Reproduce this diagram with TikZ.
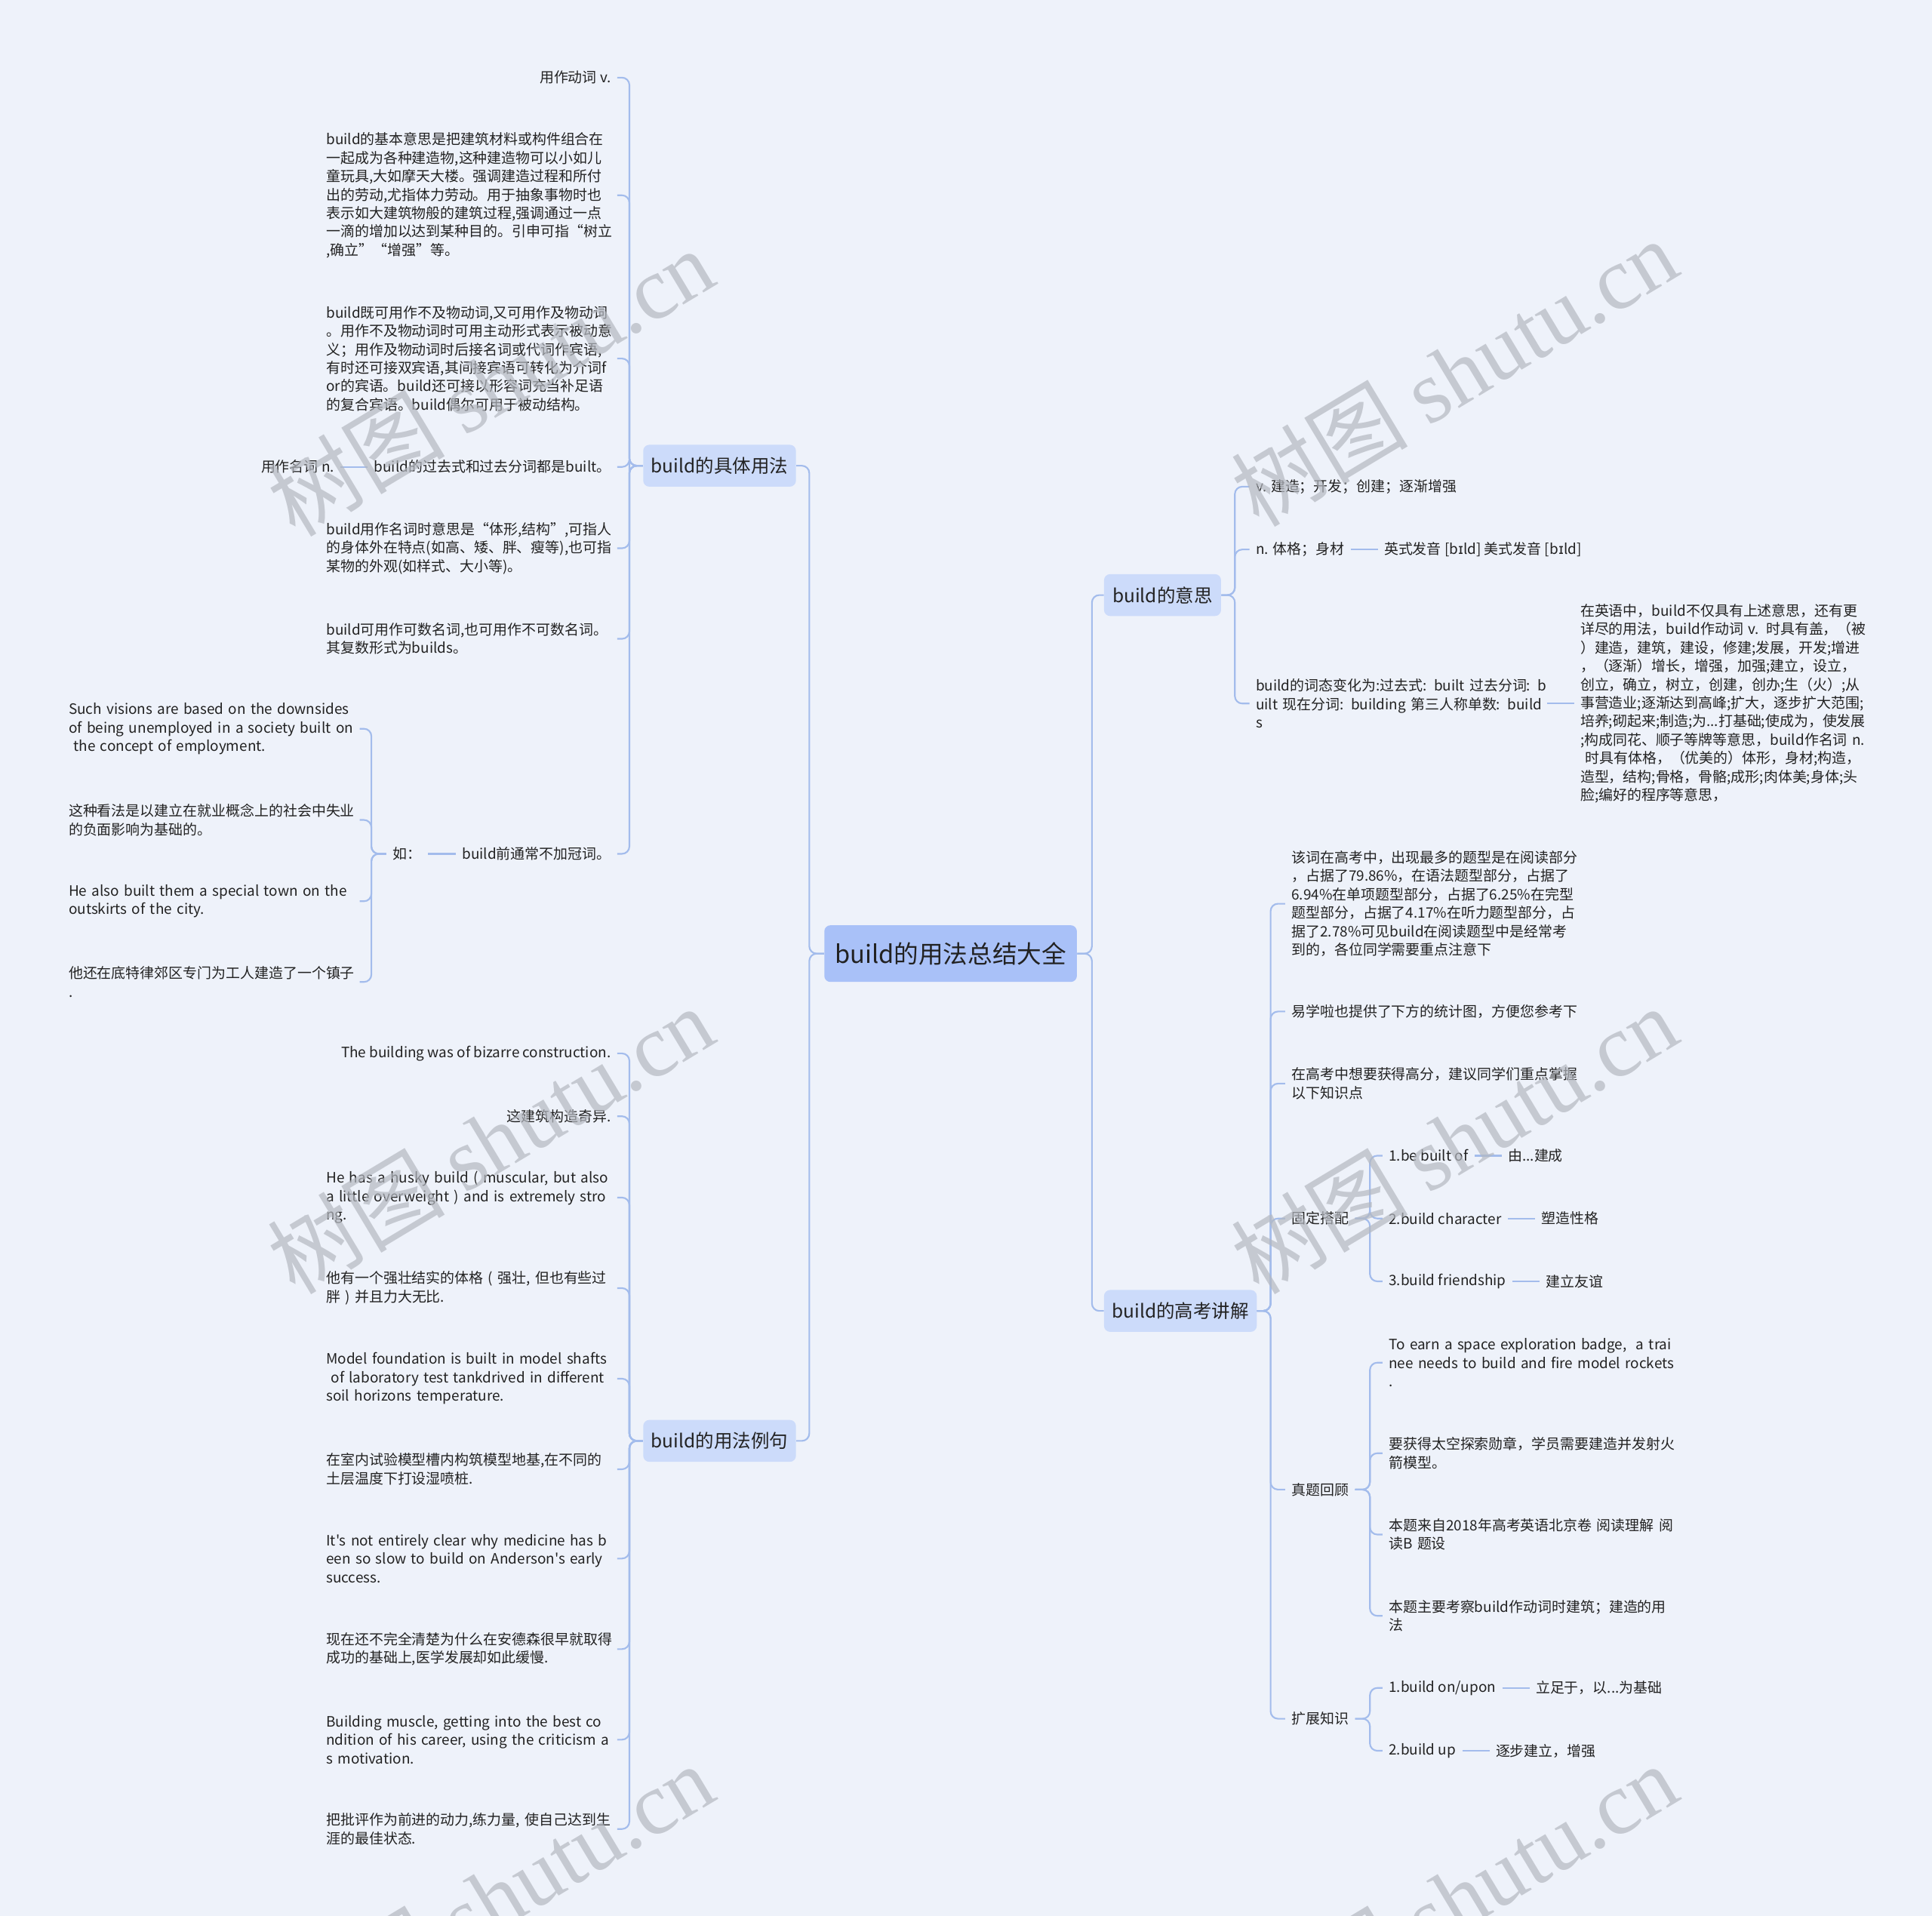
\documentclass[tikz,border=0pt]{standalone}
\usepackage{fontspec}
\setmainfont{Noto Sans CJK SC}[Ligatures=TeXOff]
\newfontfamily\ipafont{DejaVu Sans}
\newfontfamily\wmserif{Liberation Serif}
\usetikzlibrary{positioning}
\setlength{\parindent}{0pt}
\newcommand{\keep}[1]{\mbox{#1}}
\definecolor{bgc}{HTML}{EEF2FA}
\definecolor{lc}{HTML}{A3BCEC}
\definecolor{rootfill}{HTML}{A9C1F8}
\definecolor{lonefill}{HTML}{CCDBFA}
\definecolor{txt}{HTML}{222222}
\definecolor{wmc}{HTML}{B4B8C0}
\tikzset{
  conn/.style={draw=lc, line width=1.3pt, rounded corners=6pt},
  leaf/.style={font=\fontsize{11.6}{15}\selectfont, text=txt, inner xsep=5pt, inner ysep=2pt},
  para/.style={leaf, text width=231pt, align=left},
  rootbox/.style={fill=rootfill, rounded corners=5pt, minimum width=205pt, minimum height=46pt, font=\fontsize{20}{24}\selectfont, text=txt, inner sep=0pt},
  lonebox/.style={fill=lonefill, rounded corners=5pt, minimum height=34pt, font=\fontsize{15}{18}\selectfont, text=txt, inner xsep=0pt},
  wmark/.style={text=wmc, text opacity=0.7, rotate=31, font=\fontsize{72}{80}\selectfont}
}
\begin{document}
\begin{tikzpicture}[x=1pt,y=-1pt]
\fill[bgc] (0,0) rectangle (1568,1555);
\useasboundingbox (0,0) rectangle (1568,1555);

% root and main branches
\node[rootbox] (root) at (771.5,774) {build的用法总结大全};
\node[lonebox, minimum width=124pt] (jt) at (584,378) {build的具体用法};
\node[lonebox, minimum width=124pt] (lj) at (584,1169.5) {build的用法例句};
\node[lonebox, minimum width=95pt] (ys) at (943.5,483) {build的意思};
\node[lonebox, minimum width=124pt] (gk) at (958,1064) {build的高考讲解};

% ---- build的具体用法 ----
\node[leaf, anchor=east] (c1) at (501,63) {用作动词 v.};
\node[para, anchor=east] (c2) at (501,158.5) {\keep{build的基本意思是把建筑材料或构件组合在}\\\keep{一起成为各种建造物,这种建造物可以小如儿}\\\keep{童玩具,大如摩天大楼。强调建造过程和所付}\\\keep{出的劳动,尤指体力劳动。用于抽象事物时也}\\\keep{表示如大建筑物般的建筑过程,强调通过一点}\\\keep{一滴的增加以达到某种目的。引申可指“树立}\\\keep{,确立”“增强”等。}};
\node[para, anchor=east] (c3) at (501,291) {\keep{build既可用作不及物动词,又可用作及物动词}\\\keep{。用作不及物动词时可用主动形式表示被动意}\\\keep{义；用作及物动词时后接名词或代词作宾语,}\\\keep{有时还可接双宾语,其间接宾语可转化为介词f}\\\keep{or的宾语。build还可接以形容词充当补足语}\\\keep{的复合宾语。build偶尔可用于被动结构。}};
\node[leaf, anchor=east] (c4) at (501,379) {build的过去式和过去分词都是built。};
\node[leaf, left=22pt of c4] (c4n) {用作名词 n.};
\node[para, anchor=east] (c5) at (501,445) {\keep{build用作名词时意思是“体形,结构”,可指人}\\\keep{的身体外在特点(如高、矮、胖、瘦等),也可指}\\\keep{某物的外观(如样式、大小等)。}};
\node[para, anchor=east] (c6) at (501,518.5) {\keep{build可用作可数名词,也可用作不可数名词。}\\\keep{其复数形式为builds。}};
\node[leaf, anchor=east] (c7) at (501,693) {build前通常不加冠词。};
\node[leaf, anchor=east] (ru) at (347,693) {如：};
\node[para, anchor=east] (e1) at (292,591.5) {\keep{Such visions are based on the downsides}\\\keep{of being unemployed in a society built on}\\\keep{ the concept of employment.}};
\node[para, anchor=east] (e2) at (292,665.5) {\keep{这种看法是以建立在就业概念上的社会中失业}\\\keep{的负面影响为基础的。}};
\node[para, anchor=east] (e3) at (292,731.5) {\keep{He also built them a special town on the}\\\keep{outskirts of the city.}};
\node[para, anchor=east] (e4) at (292,797) {\keep{他还在底特律郊区专门为工人建造了一个镇子}\\\keep{.}};

% ---- build的用法例句 ----
\node[leaf, anchor=east] (d1) at (501,855) {The building was of bizarre construction.};
\node[leaf, anchor=east] (d2) at (501,906) {这建筑构造奇异.};
\node[para, anchor=east] (d3) at (501,972) {\keep{He has a husky build ( muscular, but also}\\\keep{a little overweight ) and is extremely stro}\\\keep{ng.}};
\node[para, anchor=east] (d4) at (501,1045.5) {\keep{他有一个强壮结实的体格 ( 强壮, 但也有些过}\\\keep{胖 ) 并且力大无比.}};
\node[para, anchor=east] (d5) at (501,1119) {\keep{Model foundation is built in model shafts}\\\keep{ of laboratory test tankdrived in different}\\\keep{soil horizons temperature.}};
\node[para, anchor=east] (d6) at (501,1192.5) {\keep{在室内试验模型槽内构筑模型地基,在不同的}\\\keep{土层温度下打设湿喷桩.}};
\node[para, anchor=east] (d7) at (501,1265) {\keep{It's not entirely clear why medicine has b}\\\keep{een so slow to build on Anderson's early}\\\keep{success.}};
\node[para, anchor=east] (d8) at (501,1338.5) {\keep{现在还不完全清楚为什么在安德森很早就取得}\\\keep{成功的基础上,医学发展却如此缓慢.}};
\node[para, anchor=east] (d9) at (501,1412) {\keep{Building muscle, getting into the best co}\\\keep{ndition of his career, using the criticism a}\\\keep{s motivation.}};
\node[para, anchor=east] (d10) at (501,1484.5) {\keep{把批评作为前进的动力,练力量, 使自己达到生}\\\keep{涯的最佳状态.}};

% ---- build的意思 ----
\node[leaf, anchor=west] (m1) at (1014,395) {v. 建造；开发；创建；逐渐增强};
\node[leaf, anchor=west] (m2) at (1014,446) {n. 体格；身材};
\node[leaf, right=22pt of m2] (m2c) {英式发音 [b{\ipafont ɪ}ld] 美式发音 [b{\ipafont ɪ}ld]};
\node[para, anchor=west] (m3) at (1014,571) {\keep{build的词态变化为:过去式: built 过去分词: b}\\\keep{uilt 现在分词: building 第三人称单数: build}\\\keep{s}};
\node[para, right=22pt of m3] (m3c) {\keep{在英语中，build不仅具有上述意思，还有更}\\\keep{详尽的用法，build作动词 v. 时具有盖，（被}\\\keep{）建造，建筑，建设，修建;发展，开发;增进}\\\keep{，（逐渐）增长，增强，加强;建立，设立，}\\\keep{创立，确立，树立，创建，创办;生（火）;从}\\\keep{事营造业;逐渐达到高峰;扩大，逐步扩大范围;}\\\keep{培养;砌起来;制造;为...打基础;使成为，使发展}\\\keep{;构成同花、顺子等牌等意思，build作名词 n.}\\\keep{ 时具有体格，（优美的）体形，身材;构造，}\\\keep{造型，结构;骨格，骨骼;成形;肉体美;身体;头}\\\keep{脸;编好的程序等意思，}};

% ---- build的高考讲解 ----
\node[para, anchor=west] (g1) at (1043,733.5) {\keep{该词在高考中，出现最多的题型是在阅读部分}\\\keep{，占据了79.86\%，在语法题型部分，占据了}\\\keep{6.94\%在单项题型部分，占据了6.25\%在完型}\\\keep{题型部分，占据了4.17\%在听力题型部分，占}\\\keep{据了2.78\%可见build在阅读题型中是经常考}\\\keep{到的，各位同学需要重点注意下}};
\node[leaf, anchor=west] (g2) at (1043,821) {易学啦也提供了下方的统计图，方便您参考下};
\node[para, anchor=west] (g3) at (1043,879.5) {\keep{在高考中想要获得高分，建议同学们重点掌握}\\\keep{以下知识点}};
\node[leaf, anchor=west] (g4) at (1043,989) {固定搭配};
\node[leaf, anchor=west] (f1) at (1122,938) {1.be built of};
\node[leaf, right=22pt of f1] (f1c) {由...建成};
\node[leaf, anchor=west] (f2) at (1122,989) {2.build character};
\node[leaf, right=22pt of f2] (f2c) {塑造性格};
\node[leaf, anchor=west] (f3) at (1122,1040) {3.build friendship};
\node[leaf, right=22pt of f3] (f3c) {建立友谊};
\node[leaf, anchor=west] (g5) at (1043,1209) {真题回顾};
\node[para, anchor=west] (z1) at (1122,1106) {\keep{To earn a space exploration badge,\ \ a trai}\\\keep{nee needs to build and fire model rockets}\\\keep{.}};
\node[para, anchor=west] (z2) at (1122,1179.5) {\keep{要获得太空探索勋章，学员需要建造并发射火}\\\keep{箭模型。}};
\node[para, anchor=west] (z3) at (1122,1245.5) {\keep{本题来自2018年高考英语北京卷 阅读理解 阅}\\\keep{读B 题设}};
\node[para, anchor=west] (z4) at (1122,1311.5) {\keep{本题主要考察build作动词时建筑；建造的用}\\\keep{法}};
\node[leaf, anchor=west] (g6) at (1043,1395) {扩展知识};
\node[leaf, anchor=west] (k1) at (1122,1370) {1.build on/upon};
\node[leaf, right=22pt of k1] (k1c) {立足于，以...为基础};
\node[leaf, anchor=west] (k2) at (1122,1421) {2.build up};
\node[leaf, right=22pt of k2] (k2c) {逐步建立，增强};

% ---- connectors ----
\foreach \t in {jt,lj} \draw[conn] (root.west) -- ++(-12,0) |- (\t.east);
\foreach \t in {ys,gk} \draw[conn] (root.east) -- ++(12,0) |- (\t.west);
\foreach \t in {c1,c2,c3,c4,c5,c6,c7} \draw[conn] (jt.west) -- ++(-11,0) |- (\t.east);
\draw[conn] (c4.west) -- (c4n.east);
\draw[conn] (c7.west) -- (ru.east);
\foreach \t in {e1,e2,e3,e4} \draw[conn] (ru.west) -- ++(-12,0) |- (\t.east);
\foreach \t in {d1,d2,d3,d4,d5,d6,d7,d8,d9,d10} \draw[conn] (lj.west) -- ++(-11,0) |- (\t.east);
\foreach \t in {m1,m2,m3} \draw[conn] (ys.east) -- ++(11,0) |- (\t.west);
\draw[conn] (m2.east) -- (m2c.west);
\draw[conn] (m3.east) -- (m3c.west);
\foreach \t in {g1,g2,g3,g4,g5,g6} \draw[conn] (gk.east) -- ++(11,0) |- (\t.west);
\foreach \t in {f1,f2,f3} \draw[conn] (g4.east) -- ++(12,0) |- (\t.west);
\draw[conn] (f1.east) -- (f1c.west);
\draw[conn] (f2.east) -- (f2c.west);
\draw[conn] (f3.east) -- (f3c.west);
\foreach \t in {z1,z2,z3,z4} \draw[conn] (g5.east) -- ++(12,0) |- (\t.west);
\foreach \t in {k1,k2} \draw[conn] (g6.east) -- ++(12,0) |- (\t.west);
\draw[conn] (k1.east) -- (k1c.west);
\draw[conn] (k2.east) -- (k2c.west);

% ---- watermark ----
\begin{scope}
\clip (0,0) rectangle (1568,1555);
\node[wmark] (wm1) at (398,310) {树图 {\wmserif shutu.cn}};
\node[wmark] (wm2) at (1180,302) {树图 {\wmserif shutu.cn}};
\node[wmark] (wm3) at (398,925) {树图 {\wmserif shutu.cn}};
\node[wmark] (wm4) at (1180,925) {树图 {\wmserif shutu.cn}};
\node[wmark] (wm5) at (398,1540) {树图 {\wmserif shutu.cn}};
\node[wmark] (wm6) at (1180,1540) {树图 {\wmserif shutu.cn}};
\end{scope}
\end{tikzpicture}
\end{document}
